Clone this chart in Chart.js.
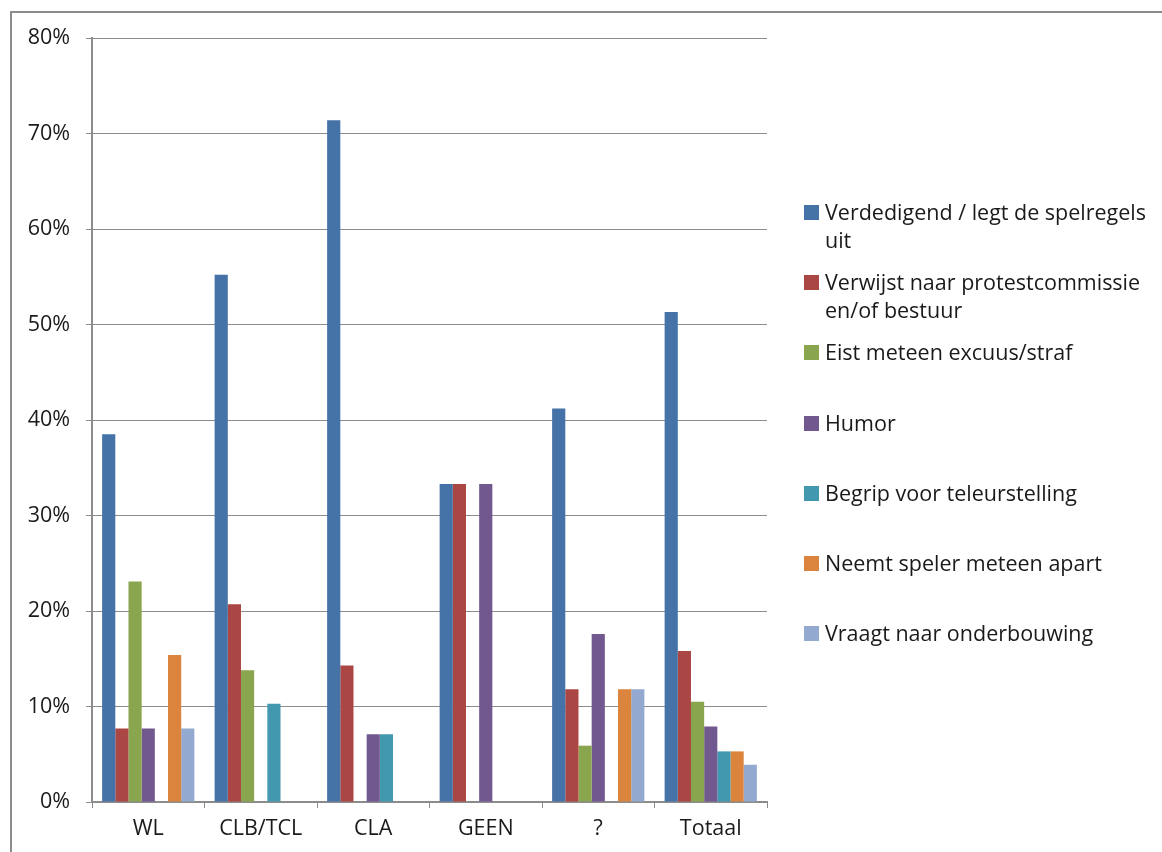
<!DOCTYPE html>
<html>
<head>
<meta charset="utf-8">
<script src="https://cdn.jsdelivr.net/npm/chart.js@4.4.1/dist/chart.umd.min.js"></script>
<style>
  html, body { margin: 0; padding: 0; background: #fff; }
  #wrap { position: relative; width: 1162px; height: 852px; overflow: hidden; }
  #frame { position: absolute; left: 10px; top: 11px; width: 1160px; height: 850px; border: 2px solid #8c8c8c; box-sizing: border-box; }
  canvas { position: absolute; left: 0; top: 0; }
  #legend { position: absolute; left: 804px; top: 0; font-family: "Open Sans", sans-serif; font-size: 21.5px; color: #1a1a1a; }
  .item { position: absolute; left: 0; white-space: nowrap; line-height: 28px; }
  .box { position: absolute; left: 0; top: 7px; width: 15px; height: 15px; }
  .txt { position: absolute; left: 21px; top: 0; }
</style>
</head>
<body>
<div id="wrap">
  <div id="frame"></div>
  <canvas id="chart" width="1162" height="852"></canvas>
  <div id="legend"></div>
</div>
<script>
// categories and series
const categories = ["WL", "CLB/TCL", "CLA", "GEEN", "?", "Totaal"];
const seriesNames = [
    "Verdedigend / legt de spelregels\nuit",
    "Verwijst naar protestcommissie\nen/of bestuur",
    "Eist meteen excuus/straf",
    "Humor",
    "Begrip voor teleurstelling",
    "Neemt speler meteen apart",
    "Vraagt naar onderbouwing"
];
const seriesColors = ["#4572A7", "#AA4643", "#89A54E", "#71588F", "#4198AF", "#DB843D", "#93A9CF"];

const verdedigend = [38.5, 55.2, 71.4, 33.3, 41.2, 51.3];
const verwijst    = [7.7, 20.7, 14.3, 33.3, 11.8, 15.8];
const eist        = [23.1, 13.8, 0, 0, 5.9, 10.5];
const humor       = [7.7, 0, 7.1, 33.3, 17.6, 7.9];
const begrip      = [0, 10.3, 7.1, 0, 0, 5.3];
const neemt       = [15.4, 0, 0, 0, 11.8, 5.3];
const vraagt      = [7.7, 0, 0, 0, 11.8, 3.9];
const seriesValues = [verdedigend, verwijst, eist, humor, begrip, neemt, vraagt];

const yTicks = [0, 10, 20, 30, 40, 50, 60, 70, 80];

const fontFamily = "'Open Sans', sans-serif";
const gridColor = "#8c8c8c";

new Chart(document.getElementById("chart"), {
    type: "bar",
    data: {
        labels: categories,
        datasets: seriesValues.map((vals, i) => ({
            label: seriesNames[i].replace("\n", " "),
            data: vals,
            backgroundColor: seriesColors[i],
            borderWidth: 0,
            categoryPercentage: 0.82,
            barPercentage: 1.0
        }))
    },
    options: {
        responsive: false,
        devicePixelRatio: 1,
        animation: false,
        layout: { padding: { left: 10, top: 38, right: 395, bottom: 0 } },
        plugins: {
            legend: { display: false },
            tooltip: { enabled: false }
        },
        scales: {
            x: {
                grid: { offset: true, drawOnChartArea: false, color: gridColor, tickLength: 6 },
                border: { color: gridColor, width: 2 },
                ticks: { color: "#1a1a1a", font: { family: fontFamily, size: 21.5 }, padding: 8 },
                afterFit: (scale) => { scale.height = 50; }
            },
            y: {
                min: 0,
                max: 80,
                afterBuildTicks: (scale) => { scale.ticks = yTicks.map(v => ({ value: v })); },
                grid: { color: gridColor, tickLength: 6 },
                border: { color: gridColor, width: 2 },
                ticks: {
                    color: "#1a1a1a",
                    font: { family: fontFamily, size: 21.5 },
                    padding: 16,
                    callback: (v) => v + "%"
                },
                afterFit: (scale) => { scale.width = 82; }
            }
        }
    }
});

// HTML legend on the right
const legend = document.getElementById("legend");
seriesNames.forEach((name, i) => {
    const item = document.createElement("div");
    item.className = "item";
    item.style.top = (198 + i * 70.2) + "px";
    item.innerHTML = `<div class="box" style="background:${seriesColors[i]}"></div><div class="txt">${name.replace("\n", "<br>")}</div>`;
    legend.appendChild(item);
});
</script>
</body>
</html>
